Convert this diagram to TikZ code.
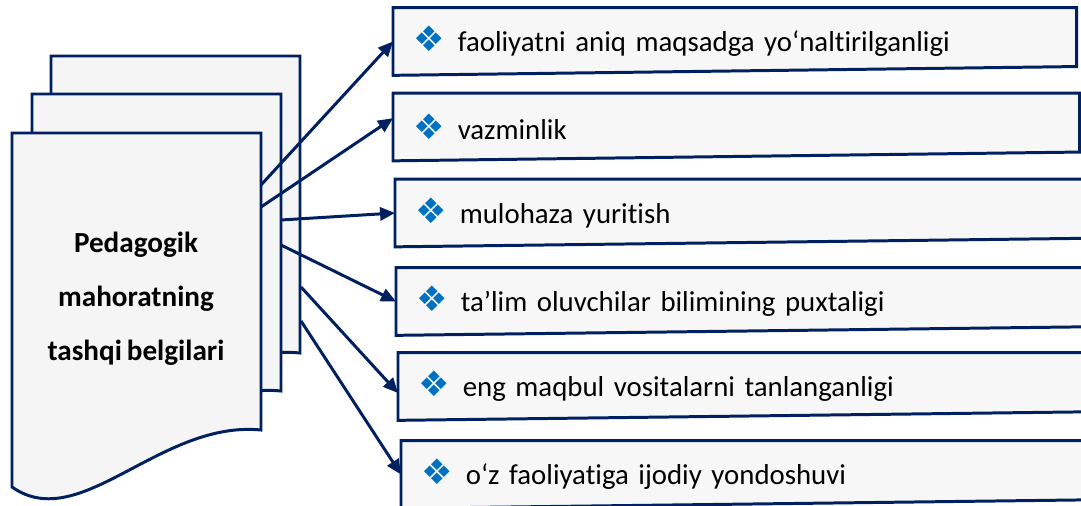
\documentclass[tikz,border=0pt]{standalone}
\usepackage{fontspec}
\setmainfont{Carlito}[Ligatures=NoCommon,WordSpace=0.75]
\newfontfamily\bulletfont{DejaVu Sans}
\usetikzlibrary{arrows.meta,backgrounds}

\definecolor{navy}{RGB}{0,32,96}
\definecolor{bulletblue}{RGB}{0,112,192}
\newcommand{\itemmark}{{\bulletfont\fontsize{20}{20}\selectfont\color{bulletblue}❖}\hspace{0.45em}}

\begin{document}
\begin{tikzpicture}[x=0.02cm,y=-0.02cm,
  sheet/.style={draw=navy,line width=1.7pt,fill=black!4},
  frame/.style={draw=navy,line width=1.7pt,fill=black!3},
  item/.style={anchor=west,minimum height=1.34cm,inner xsep=4mm,text width=13.4cm,
    align=left,font=\fontsize{16.4}{20}\selectfont},
  conn/.style={-{Triangle[length=8.5pt,width=7.5pt]},color=navy,line width=1.7pt}]
\useasboundingbox (0,0) rectangle (1081,506);

% stacked pages
\foreach \dx/\dy in {39/-77,20/-39,0/0}
  \draw[sheet,shift={(\dx,\dy)}] (12,133) -- (261,133) -- (261,430)
    .. controls (160,420) and (80,535) .. (12,487) -- cycle;
\node[font=\bfseries\fontsize{16.6}{30.6}\selectfont,align=center] (title) at (136,299)
  {Pedagogik\\mahoratning\\tashqi belgilari};

\coordinate (s1) at (261,185);
\coordinate (s2) at (261,207);
\coordinate (s3) at (281,220);
\coordinate (s4) at (281,245);
\coordinate (s5) at (301,287);
\coordinate (s6) at (301,321);

% signs
\node[item,text width=12.86cm] (t1) at (393,41.5) {\itemmark faoliyatni aniq maqsadga yo‘naltirilganligi};
\node[item,text width=12.92cm] (t2) at (393,127) {\itemmark vazminlik};
\node[item] (t3) at (395,213) {\itemmark mulohaza yuritish};
\node[item] (t4) at (396,301.5) {\itemmark ta’lim oluvchilar bilimining puxtaligi};
\node[item] (t5) at (398,386.5) {\itemmark eng maqbul vositalarni tanlanganligi};
\node[item] (t6) at (401,474.5) {\itemmark o‘z faoliyatiga ijodiy yondoshuvi};

\begin{pgfonlayer}{background}
\begin{scope}
\clip (0,0) rectangle (1081,506);
\foreach \n in {1,...,6}
  \draw[frame] (t\n.north west) -- (t\n.north east) -- ([yshift=5pt]t\n.south east)
    -- (t\n.south west) -- cycle;
\end{scope}
\end{pgfonlayer}

\path[conn] (s1) edge (t1.west)
            (s2) edge ([yshift=5pt]t2.west)
            (s3) edge (t3.west)
            (s4) edge (t4.west)
            (s5) edge ([yshift=-3.7pt]t5.west)
            (s6) edge (t6.west);
\end{tikzpicture}
\end{document}
